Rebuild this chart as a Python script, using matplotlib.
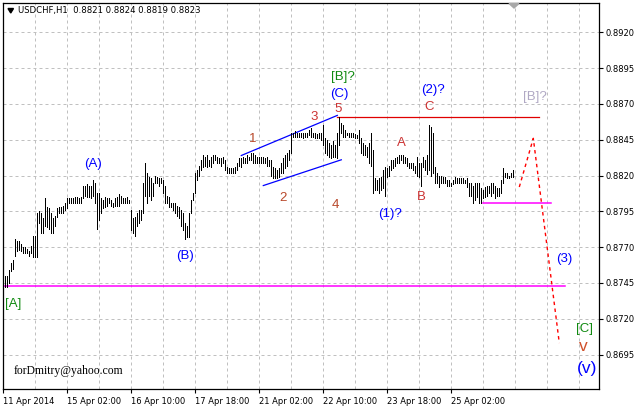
import matplotlib
matplotlib.use("Agg")
import matplotlib.pyplot as plt
from matplotlib.patches import Polygon

# ---------------- data (USDCHF H1 bars) ----------------
highs = [
    0.8750, 0.8750, 0.8754, 0.8759, 0.8761, 0.8776, 0.8774, 0.8774, 0.8772, 0.8770,
    0.8770, 0.8769, 0.8767, 0.8771, 0.8778, 0.8778, 0.8794, 0.8795, 0.8794, 0.8790,
    0.8804, 0.8798, 0.8797, 0.8794, 0.8790, 0.8792, 0.8797, 0.8798, 0.8798, 0.8799,
    0.8801, 0.8804, 0.8804, 0.8804, 0.8804, 0.8805, 0.8805, 0.8804, 0.8805, 0.8813,
    0.8813, 0.8814, 0.8813, 0.8813, 0.8817, 0.8815, 0.8808, 0.8808, 0.8804, 0.8803,
    0.8805, 0.8804, 0.8804, 0.8803, 0.8801, 0.8804, 0.8805, 0.8807, 0.8806, 0.8804,
    0.8804, 0.8805, 0.8803, 0.8796, 0.8790, 0.8791, 0.8794, 0.8796, 0.8796, 0.8815,
    0.8829, 0.8822, 0.8819, 0.8818, 0.8815, 0.8820, 0.8819, 0.8818, 0.8818, 0.8817,
    0.8813, 0.8806, 0.8805, 0.8801, 0.8801, 0.8801, 0.8799, 0.8798, 0.8796, 0.8794,
    0.8787, 0.8785, 0.8794, 0.8803, 0.8808, 0.8822, 0.8824, 0.8827, 0.8831, 0.8834,
    0.8833, 0.8834, 0.8831, 0.8833, 0.8834, 0.8834, 0.8833, 0.8832, 0.8832, 0.8833,
    0.8831, 0.8826, 0.8825, 0.8825, 0.8825, 0.8826, 0.8829, 0.8832, 0.8832, 0.8833,
    0.8832, 0.8834, 0.8833, 0.8836, 0.8836, 0.8834, 0.8833, 0.8833, 0.8833, 0.8833,
    0.8832, 0.8833, 0.8831, 0.8831, 0.8826, 0.8825, 0.8824, 0.8825, 0.8829, 0.8832,
    0.8834, 0.8836, 0.8838, 0.8850, 0.8850, 0.8851, 0.8850, 0.8850, 0.8850, 0.8850,
    0.8850, 0.8850, 0.8852, 0.8853, 0.8850, 0.8850, 0.8849, 0.8850, 0.8850, 0.8855,
    0.8846, 0.8845, 0.8843, 0.8841, 0.8844, 0.8841, 0.8850, 0.8861, 0.8857, 0.8855,
    0.8852, 0.8850, 0.8850, 0.8850, 0.8850, 0.8849, 0.8848, 0.8852, 0.8846, 0.8843,
    0.8841, 0.8840, 0.8843, 0.8850, 0.8838, 0.8818, 0.8817, 0.8818, 0.8819, 0.8824,
    0.8826, 0.8825, 0.8827, 0.8831, 0.8831, 0.8832, 0.8833, 0.8834, 0.8834, 0.8834,
    0.8833, 0.8832, 0.8829, 0.8829, 0.8829, 0.8827, 0.8833, 0.8829, 0.8829, 0.8833,
    0.8831, 0.8834, 0.8855, 0.8854, 0.8850, 0.8826, 0.8822, 0.8820, 0.8820, 0.8819,
    0.8819, 0.8817, 0.8817, 0.8815, 0.8817, 0.8819, 0.8818, 0.8818, 0.8818, 0.8818,
    0.8817, 0.8818, 0.8815, 0.8815, 0.8813, 0.8815, 0.8815, 0.8815, 0.8811, 0.8810,
    0.8812, 0.8813, 0.8813, 0.8815, 0.8815, 0.8813, 0.8811, 0.8811, 0.8817, 0.8825,
    0.8822, 0.8822, 0.8820, 0.8822, 0.8824,
]
lows = [
    0.8742, 0.8742, 0.8745, 0.8753, 0.8755, 0.8764, 0.8767, 0.8768, 0.8767, 0.8766,
    0.8766, 0.8766, 0.8764, 0.8766, 0.8763, 0.8763, 0.8763, 0.8787, 0.8780, 0.8780,
    0.8785, 0.8784, 0.8783, 0.8780, 0.8780, 0.8785, 0.8791, 0.8794, 0.8794, 0.8794,
    0.8796, 0.8797, 0.8801, 0.8801, 0.8801, 0.8801, 0.8801, 0.8801, 0.8801, 0.8804,
    0.8806, 0.8805, 0.8805, 0.8804, 0.8806, 0.8801, 0.8783, 0.8789, 0.8794, 0.8797,
    0.8798, 0.8799, 0.8801, 0.8799, 0.8798, 0.8799, 0.8799, 0.8799, 0.8801, 0.8801,
    0.8801, 0.8801, 0.8801, 0.8782, 0.8780, 0.8778, 0.8785, 0.8787, 0.8789, 0.8794,
    0.8806, 0.8801, 0.8806, 0.8803, 0.8806, 0.8815, 0.8815, 0.8813, 0.8815, 0.8808,
    0.8801, 0.8801, 0.8798, 0.8798, 0.8796, 0.8794, 0.8792, 0.8790, 0.8785, 0.8782,
    0.8776, 0.8777, 0.8777, 0.8794, 0.8803, 0.8808, 0.8817, 0.8820, 0.8824, 0.8826,
    0.8827, 0.8826, 0.8827, 0.8826, 0.8829, 0.8831, 0.8829, 0.8829, 0.8827, 0.8829,
    0.8824, 0.8822, 0.8822, 0.8822, 0.8822, 0.8822, 0.8824, 0.8827, 0.8826, 0.8829,
    0.8829, 0.8829, 0.8831, 0.8831, 0.8829, 0.8829, 0.8829, 0.8829, 0.8829, 0.8829,
    0.8829, 0.8827, 0.8827, 0.8820, 0.8818, 0.8818, 0.8818, 0.8819, 0.8822, 0.8822,
    0.8825, 0.8827, 0.8831, 0.8836, 0.8847, 0.8847, 0.8847, 0.8847, 0.8847, 0.8846,
    0.8847, 0.8847, 0.8848, 0.8847, 0.8847, 0.8846, 0.8846, 0.8846, 0.8845, 0.8841,
    0.8836, 0.8834, 0.8833, 0.8832, 0.8833, 0.8833, 0.8832, 0.8841, 0.8850, 0.8847,
    0.8847, 0.8848, 0.8847, 0.8847, 0.8847, 0.8846, 0.8846, 0.8843, 0.8836, 0.8834,
    0.8834, 0.8833, 0.8829, 0.8827, 0.8808, 0.8810, 0.8810, 0.8808, 0.8810, 0.8811,
    0.8806, 0.8819, 0.8820, 0.8824, 0.8825, 0.8827, 0.8829, 0.8829, 0.8831, 0.8829,
    0.8829, 0.8827, 0.8825, 0.8825, 0.8824, 0.8822, 0.8820, 0.8819, 0.8813, 0.8826,
    0.8824, 0.8821, 0.8824, 0.8820, 0.8822, 0.8815, 0.8815, 0.8812, 0.8815, 0.8815,
    0.8815, 0.8813, 0.8813, 0.8813, 0.8814, 0.8815, 0.8815, 0.8815, 0.8815, 0.8815,
    0.8815, 0.8812, 0.8806, 0.8806, 0.8801, 0.8803, 0.8805, 0.8801, 0.8801, 0.8804,
    0.8805, 0.8806, 0.8808, 0.8806, 0.8808, 0.8804, 0.8806, 0.8806, 0.8808, 0.8815,
    0.8819, 0.8818, 0.8818, 0.8819, 0.8819,
]

x_tick_bars = [-1, 31, 63, 95, 127, 159, 191, 223]
x_tick_labels = ["11 Apr 2014", "15 Apr 02:00", "16 Apr 10:00", "17 Apr 18:00",
                 "21 Apr 02:00", "22 Apr 10:00", "23 Apr 18:00", "25 Apr 02:00"]
y_tick_values = [0.8695, 0.8720, 0.8745, 0.8770, 0.8795, 0.8820, 0.8845, 0.8870, 0.8895, 0.8920]
y_tick_labels = ["0.8695", "0.8720", "0.8745", "0.8770", "0.8795",
                 "0.8820", "0.8845", "0.8870", "0.8895", "0.8920"]
grid_bars = [15 + 16 * k for k in range(18)]
header = "USDCHF,H1  0.8821 0.8824 0.8819 0.8823"

resistance_level = 0.8861
resistance_bars = [166, 267]
support_near_level = 0.8801
support_near_bars = [239, 273]
support_far_level = 0.8743
support_far_bars = [-1, 280]
channel_upper_bars = [118, 166]
channel_upper_prices = [0.8834, 0.8862]
channel_lower_bars = [129, 168]
channel_lower_prices = [0.8813, 0.8831]
projection_bars = [257, 264, 277]
projection_prices = [0.8812, 0.8846, 0.8703]

# wave labels: (text, bar, price, colour, size)
BLUE = "#0000ff"
GREEN = "#108a10"
BROWN = "#b8482a"
RED = "#cc3333"
labels = [
    ("[A]", 4, 0.8730, GREEN, 9.5),
    ("(A)", 44, 0.88278, BLUE, 9.5),
    ("(B)", 90, 0.87638, BLUE, 9.5),
    ("1", 123.7, 0.88453, BROWN, 9.5),
    ("2", 139, 0.88043, BROWN, 9.5),
    ("3", 154.5, 0.88606, RED, 9.5),
    ("4", 165, 0.87992, BROWN, 9.5),
    ("5", 166.5, 0.88666, RED, 9.5),
    ("(C)", 167, 0.88767, BLUE, 9.5),
    ("[B]?", 168.7, 0.8889, GREEN, 9.5),
    ("A", 198.2, 0.88425, RED, 9.5),
    ("(1)?", 192.4, 0.87931, BLUE, 9.5),
    ("B", 208, 0.88052, RED, 9.5),
    ("C", 212, 0.88676, RED, 9.5),
    ("(2)?", 213.7, 0.88797, BLUE, 9.5),
    ("[B]?", 265, 0.8875, "#b0a8c4", 9.5),
    ("(3)", 279.5, 0.87615, BLUE, 9.5),
    ("[C]", 289.5, 0.87126, GREEN, 9.5),
    ("v", 289, 0.87005, "#d0502a", 12.5),
    ("(v)", 290.7, 0.86854, BLUE, 12.5),
]

# ---------------- figure ----------------
W, H = 635, 407
fig = plt.figure(figsize=(W / 100, H / 100), dpi=100)
fig.patch.set_facecolor("white")
ax = fig.add_axes([3.3 / W, 1 - 389.3 / H, (599 - 3.3) / W, (389.3 - 3.3) / H])
ax.set_facecolor("white")
ax.set_xlim(-1, 296.85)
ax.set_ylim(0.86707, 0.89403)

# grid
for gx in grid_bars:
    ax.axvline(gx, color="#c0c0c0", lw=0.72, linestyle=(0, (3, 3)), zorder=0)
for gy in y_tick_values:
    ax.axhline(gy, color="#c0c0c0", lw=0.72, linestyle=(0, (3, 3)), zorder=0)

# bars
idx = list(range(len(highs)))
ax.vlines(idx, lows, highs, colors="black", linewidth=0.72, antialiased=False, zorder=3)

# horizontal levels
ax.plot(resistance_bars, [resistance_level] * 2, color="#e00000", lw=0.9, zorder=2)
ax.plot(support_near_bars, [support_near_level] * 2, color="#ff00ff", lw=1.1, zorder=2)
ax.plot(support_far_bars, [support_far_level] * 2, color="#ff00ff", lw=1.1, zorder=2)

# channel
ax.plot(channel_upper_bars, channel_upper_prices, color="#0000ff", lw=0.9, zorder=2)
ax.plot(channel_lower_bars, channel_lower_prices, color="#0000ff", lw=0.9, zorder=2)

# projection
ax.plot(projection_bars, projection_prices, color="#ff0000", lw=1.0,
        linestyle=(0, (2.5, 2.5)), zorder=2)

for txt, bx, pr, col, sz in labels:
    ax.text(bx, pr, txt, color=col, fontsize=sz, ha="center", va="center",
            family=["Liberation Sans", "DejaVu Sans"], zorder=4)

# axes styling
for sp in ax.spines.values():
    sp.set_color("black")
    sp.set_linewidth(0.9)

ax.yaxis.tick_right()
ax.set_yticks(y_tick_values, y_tick_labels)
ax.set_xticks(x_tick_bars, x_tick_labels)
for lab in ax.get_xticklabels():
    lab.set_horizontalalignment("left")
ax.tick_params(axis="both", direction="out", length=3.2, width=0.8, colors="black",
               labelsize=6, pad=1.2)
ax.tick_params(axis="x", pad=2.0)

# header
fig.text(18.3 / W, 1 - 10.8 / H, header, fontsize=6.1, ha="left", va="center",
         color="black", family="DejaVu Sans")
fig.add_artist(Polygon([(8 / W, 1 - 8.5 / H), (13.5 / W, 1 - 8.5 / H), (10.75 / W, 1 - 13 / H)],
                       closed=True, transform=fig.transFigure, color="black"))
fig.add_artist(Polygon([(509 / W, 1 - 3.5 / H), (519 / W, 1 - 3.5 / H), (514 / W, 1 - 8 / H)],
                       closed=True, transform=fig.transFigure, color="#a8a8a8"))

# signature
fig.text(13.3 / W, 1 - 371 / H, "forDmitry@yahoo.com", fontsize=8.4, ha="left", va="center",
         color="black", family="Liberation Serif")

fig.savefig("out.png", dpi=100)
